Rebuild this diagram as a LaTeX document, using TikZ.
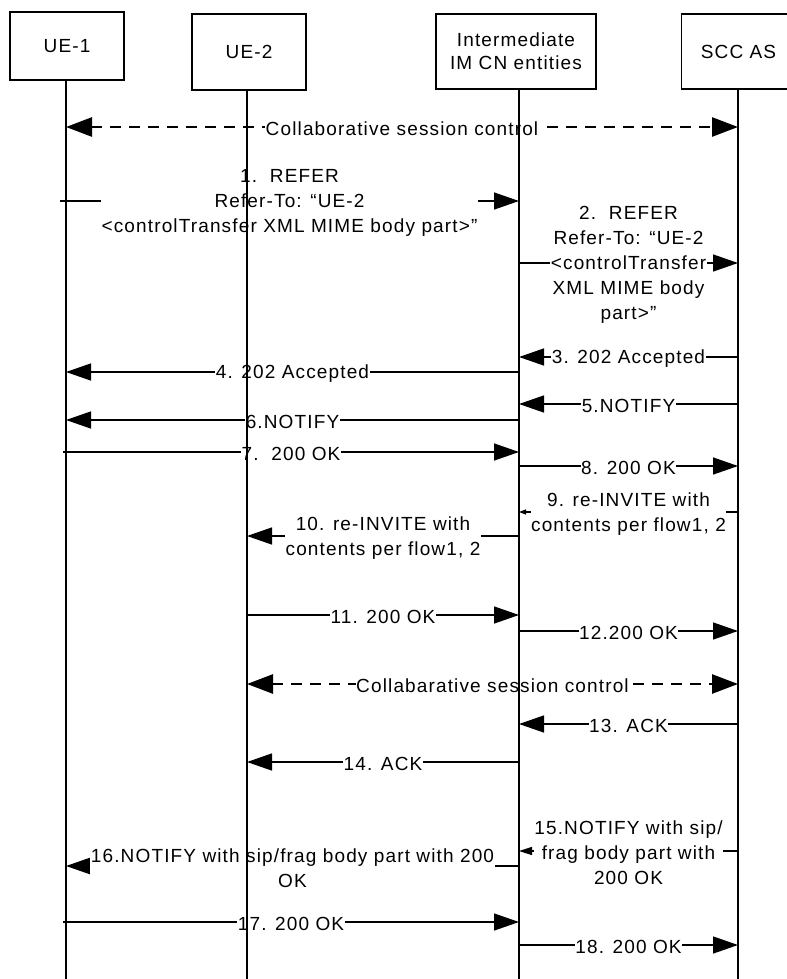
\documentclass[tikz,border=0pt]{standalone}
\usepackage{fontspec}
\setmainfont{Liberation Sans}[LetterSpace=6]
\usetikzlibrary{arrows.meta}
\tikzset{
  ent/.style={draw, line width=1.3bp, minimum width=114bp, align=center,
    font=\fontsize{19bp}{23bp}\selectfont, inner sep=0pt},
  life/.style={line width=1.4bp},
  msg/.style={line width=1.4bp, -{Triangle[length=25bp,width=17bp]}},
  msgtiny/.style={line width=1.4bp, -{Triangle[length=7bp,width=5bp]}},
  msgsmall/.style={line width=1.4bp, -{Triangle[length=13bp,width=8bp]}},
  collab/.style={line width=2.7bp, dash pattern=on 11bp off 8bp,
    {Triangle[length=26bp,width=19bp]}-{Triangle[length=26bp,width=19bp]}},
  lbl/.style={fill=white, inner sep=0.5bp, align=center, yshift=-1.8bp,
    font=\fontsize{19bp}{25bp}\selectfont},
}
\newcommand\mymsg[6]{%
  \coordinate (#1s) at (#3,#5);
  \coordinate (#1e) at (#4,#5);
  \draw[#2] (#1s) -- node[lbl]{#6} (#1e);
}
\begin{document}
\begin{tikzpicture}[x=1bp,y=-1bp]
\useasboundingbox (0,0) rectangle (787,979);
% entities
\node[ent, minimum height=68bp] (ue1) at (67,46) {UE-1};
\node[ent, minimum height=76bp] (ue2) at (249,52) {UE-2};
\node[ent, minimum width=160bp, minimum height=75bp] (ims) at (516,51.5) {Intermediate\\IM CN entities};
\node[ent, minimum height=75bp] (scc) at (738.5,51.5) {SCC AS};
% lifeline bottoms
\coordinate (b1) at (66,979);
\coordinate (b2) at (247,979);
\coordinate (b3) at (519,979);
\coordinate (b4) at (738,979);
% messages
\mymsg{c1}{collab}{66}{738}{127}{Collaborative session control}
\mymsg{m1}{msg}{60}{519}{201}{1.\ \ REFER\\Refer-To: “UE-2\\<controlTransfer XML MIME body part>”}
\mymsg{m2}{msg}{519}{738}{263}{2.\ \ REFER\\Refer-To: “UE-2\\<controlTransfer\\XML MIME body\\part>”}
\mymsg{m3}{msg}{738}{519}{357}{3. 202 Accepted}
\mymsg{m4}{msg}{519}{66}{372}{4. 202 Accepted}
\mymsg{m5}{msg}{738}{519}{404}{5.NOTIFY}
\mymsg{m6}{msg}{519}{66}{420}{6.NOTIFY}
\mymsg{m7}{msg}{63}{519}{452}{7.\ \ 200 OK}
\mymsg{m8}{msg}{519}{738}{466}{8. 200 OK}
\mymsg{m9}{msgtiny}{738}{519}{512}{9. re-INVITE with\\contents per flow1, 2}
\mymsg{m10}{msg}{519}{247}{536}{10. re-INVITE with\\contents per flow1, 2}
\mymsg{m11}{msg}{247}{519}{615}{11. 200 OK}
\mymsg{m12}{msg}{519}{738}{631}{12.200 OK}
\mymsg{c2}{collab}{247}{738}{684}{Collabarative session control}
\mymsg{m13}{msg}{738}{519}{724}{13. ACK}
\mymsg{m14}{msg}{519}{247}{762}{14. ACK}
\mymsg{m15}{msgsmall}{738}{519}{851}{15.NOTIFY with sip/\\frag body part with\\200 OK}
\mymsg{m16}{msg}{519}{66}{866}{16.NOTIFY with sip/frag body part with 200\\OK}
\mymsg{m17}{msg}{63}{519}{922}{17. 200 OK}
\mymsg{m18}{msg}{519}{738}{945}{18. 200 OK}
% lifelines on top
\draw[life] (b1 |- ue1.south) -- (b1);
\draw[life] (b2 |- ue2.south) -- (b2);
\draw[life] (b3 |- ims.south) -- (b3);
\draw[life] (b4 |- scc.south) -- (b4);
\end{tikzpicture}
\end{document}
